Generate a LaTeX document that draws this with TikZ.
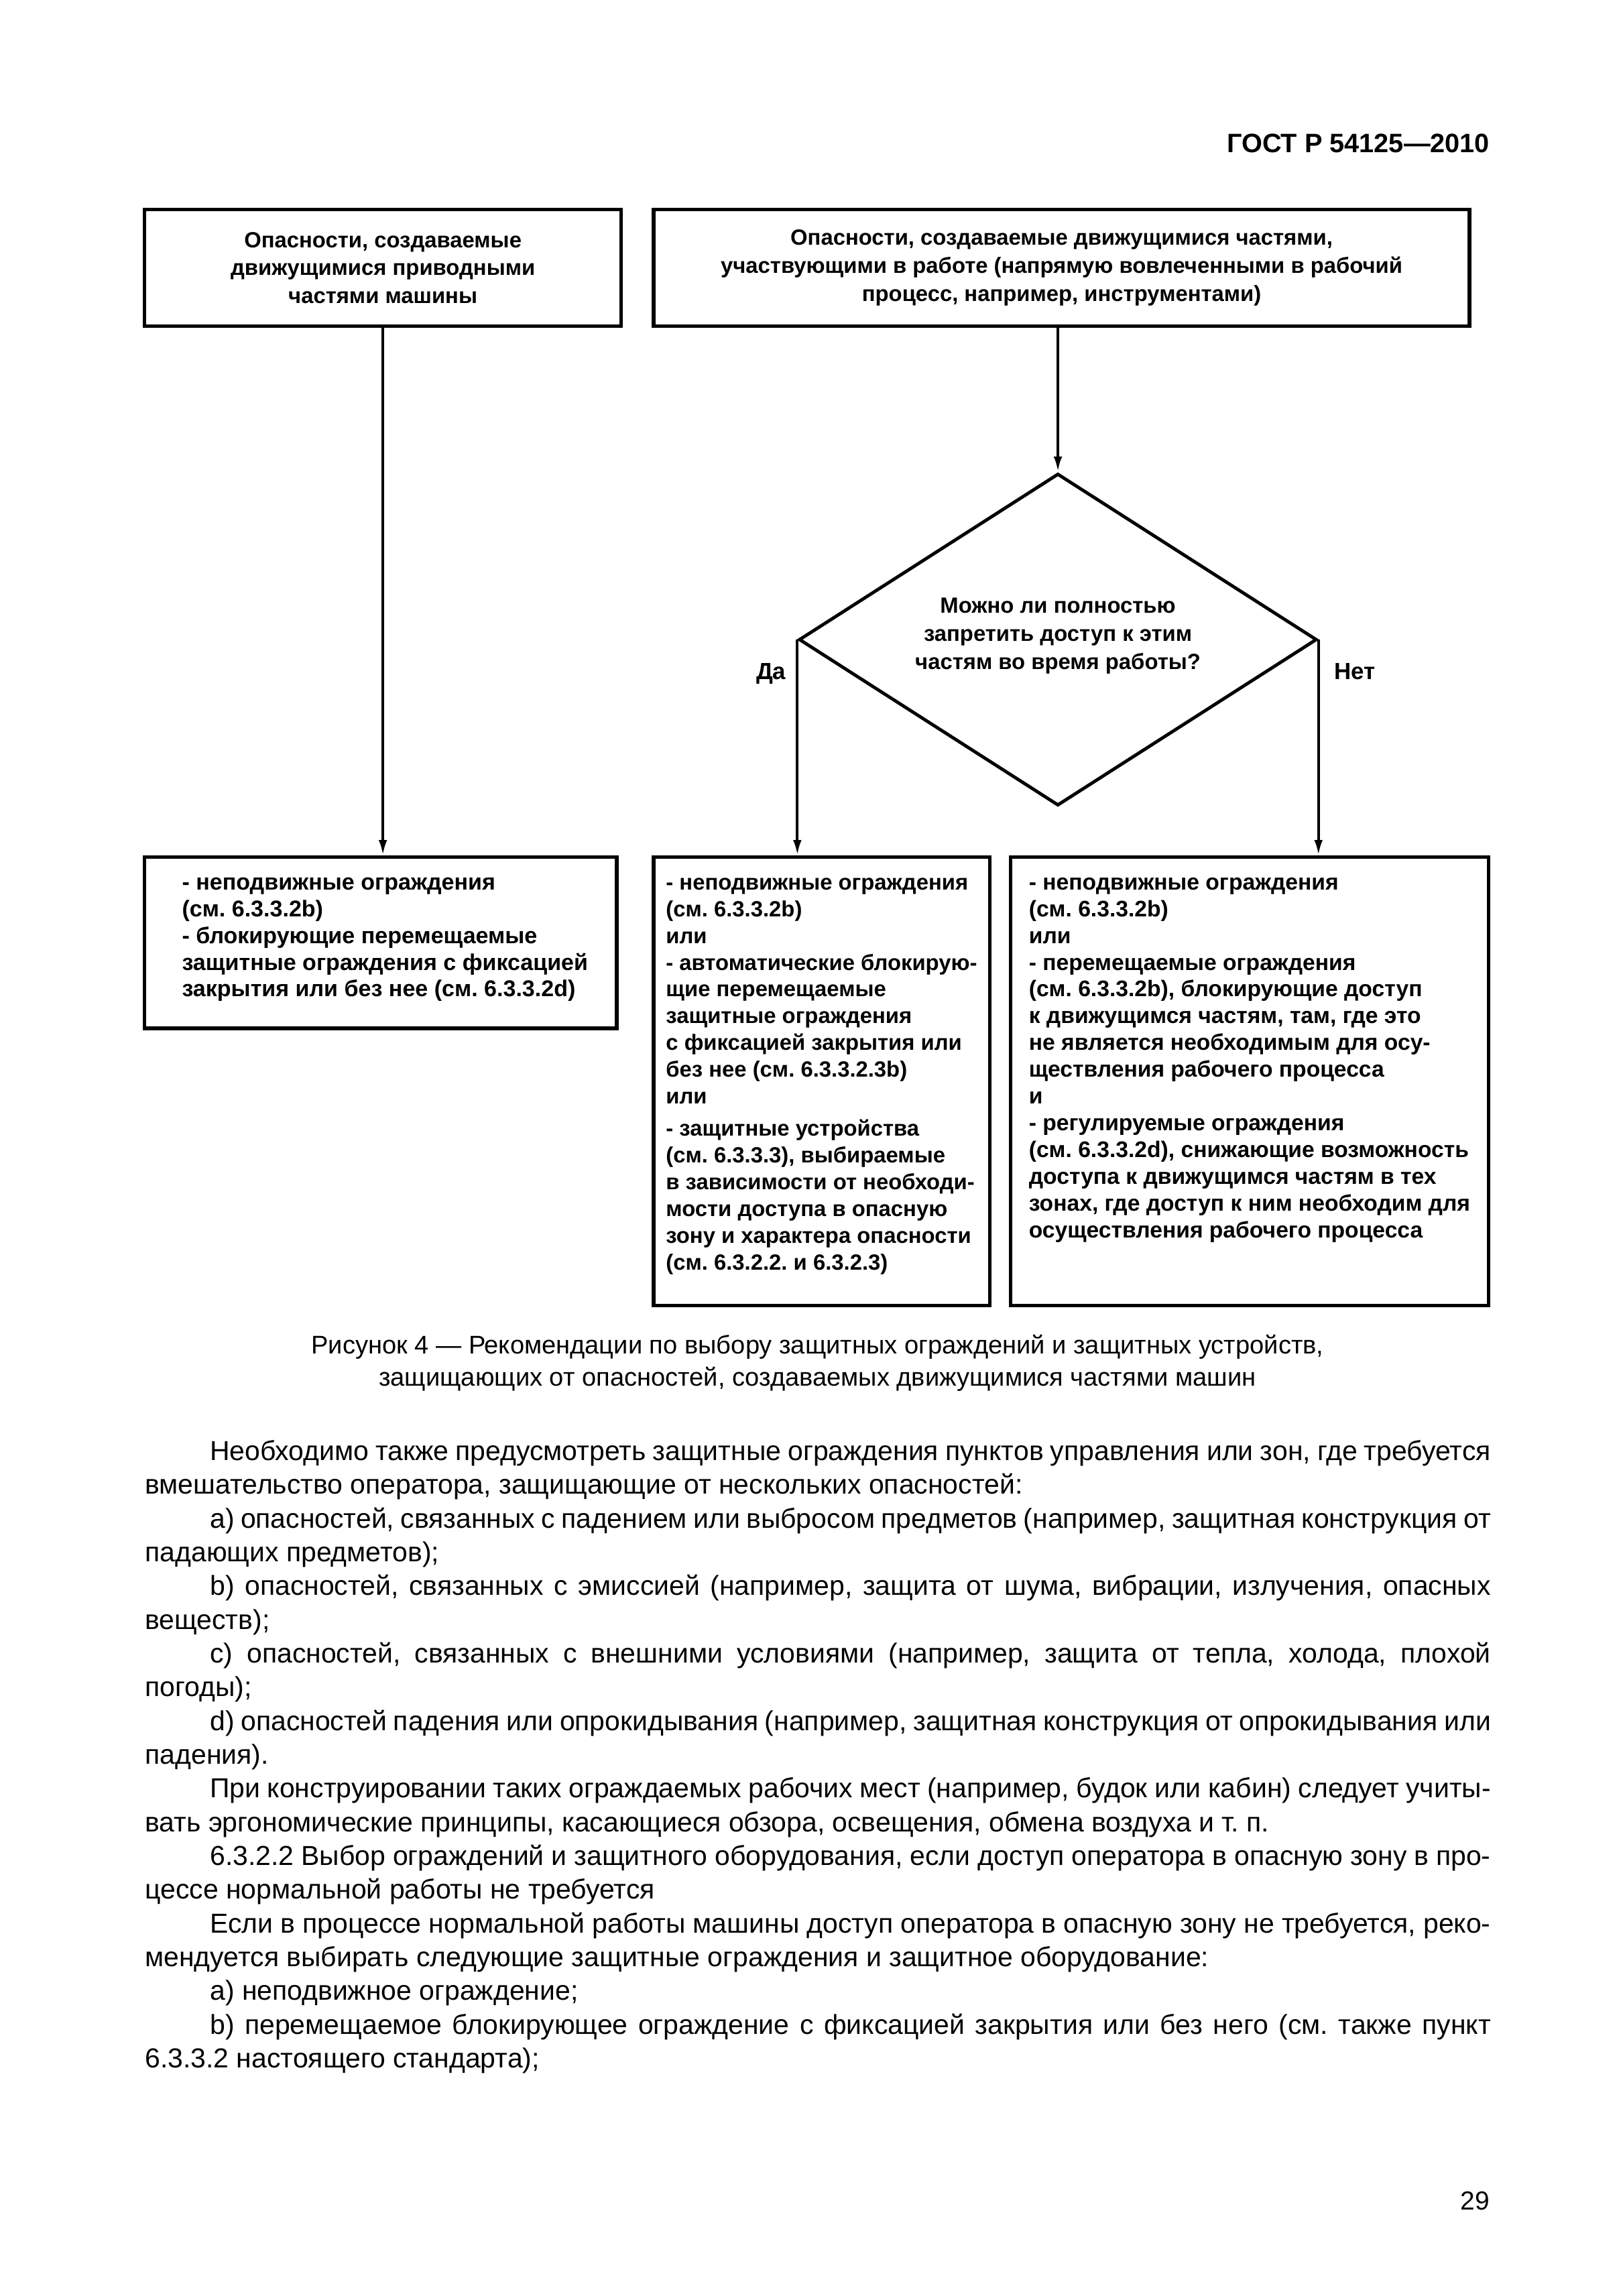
\documentclass[tikz,border=0pt]{standalone}
\usepackage{fontspec}
\setmainfont{Liberation Sans}
\usetikzlibrary{arrows.meta,shapes.geometric,calc}
\def\pxu{0.19091mm}
\frenchspacing
\begin{document}
\begin{tikzpicture}[x=0.19091mm,y=-0.19091mm,
  box/.style={draw,line width=1.3pt,rectangle,inner sep=0pt},
  dec/.style={draw,line width=1.2pt,diamond,inner sep=0pt},
  arr/.style={line width=1pt,-{Latex[length=2mm,width=1.1mm]}},
  toptext/.style={align=center,inner sep=0pt,font=\fontsize{8.1}{10.26}\selectfont\bfseries},
  boxtext/.style={align=left,inner sep=0pt,anchor=north west},
  lbl/.style={inner sep=0pt,font=\fontsize{8.6}{10.26}\selectfont\bfseries},
]
\useasboundingbox (0,0) rectangle (1100,1556.2);
\fill[white] (0,0) rectangle (1100,1556.2);

% header
\node[anchor=base east,inner sep=0pt,font=\fontsize{9.8}{12}\selectfont\bfseries] (hdr) at (1010,103.5) {ГОСТ Р 54125—2010};

% top boxes
\node[box,toptext,minimum width=323*\pxu,minimum height=79*\pxu] (A) at (259.5,181.5)
  {Опасности, создаваемые\\движущимися приводными\\частями машины};
\node[box,toptext,minimum width=553*\pxu,minimum height=79*\pxu] (B) at (719.5,181.5)
  {Опасности, создаваемые движущимися частями,\\участвующими в работе (напрямую вовлеченными в рабочий\\процесс, например, инструментами)};

% decision
\node[dec,minimum width=351*\pxu,minimum height=225*\pxu] (Q) at (717,433.5) {};
\node[toptext] (Qt) at (717,431) {Можно ли полностью\\запретить доступ к этим\\частям во время работы?};
\node[lbl,anchor=base east] (da) at (533,460.5) {Да};
\node[lbl,anchor=base west] (net) at (904,460.5) {Нет};

% bottom boxes
\node[box,minimum width=320*\pxu,minimum height=116*\pxu] (C) at (258,639) {};
\node[box,minimum width=228*\pxu,minimum height=304*\pxu] (D) at (557,733) {};
\node[box,minimum width=324*\pxu,minimum height=304*\pxu] (E) at (847,733) {};

\node[boxtext,font=\fontsize{8.4}{9.85}\selectfont\bfseries] (Ct) at (123,590) {\strut - неподвижные ограждения\\(см. 6.3.3.2b)\\- блокирующие перемещаемые\\защитные ограждения с фиксацией\\закрытия или без нее (см. 6.3.3.2d)};
\node[boxtext,font=\fontsize{8.1}{9.85}\selectfont\bfseries] (Dt) at (451,590) {\strut - неподвижные ограждения\\(см. 6.3.3.2b)\\или\\- автоматические блокирую-\\щие перемещаемые\\защитные ограждения\\с фиксацией закрытия или\\без нее (см. 6.3.3.2.3b)\\или\\[2pt]- защитные устройства\\(см. 6.3.3.3), выбираемые\\в зависимости от необходи-\\мости доступа в опасную\\зону и характера опасности\\(см. 6.3.2.2. и 6.3.2.3)};
\node[boxtext,font=\fontsize{8.3}{9.85}\selectfont\bfseries] (Et) at (697,590) {\strut - неподвижные ограждения\\(см. 6.3.3.2b)\\или\\- перемещаемые ограждения\\(см. 6.3.3.2b), блокирующие доступ\\к движущимся частям, там, где это\\не является необходимым для осу-\\ществления рабочего процесса\\и\\- регулируемые ограждения\\(см. 6.3.3.2d), снижающие возможность\\доступа к движущимся частям в тех\\зонах, где доступ к ним необходим для\\осуществления рабочего процесса};

% connectors
\draw[arr] (A.south) -- (A.south |- C.north);
\draw[arr] (Q.north |- B.south) -- (Q.north);
\draw[arr] (Q.west) -- (Q.west |- D.north);
\draw[arr] (Q.east) -- (Q.east |- E.north);

% caption
\node[align=center,inner sep=0pt,font=\fontsize{9.4}{11.9}\selectfont] (cap) at (554,924)
  {Рисунок 4 — Рекомендации по выбору защитных ограждений и защитных устройств,\\защищающих от опасностей, создаваемых движущимися частями машин};

% body text
\node[anchor=north west,inner sep=0pt,text width=912*\pxu,align=justify,font=\fontsize{10.1}{12.42}\selectfont] (body) at (98,973.5)
{\tolerance=9999\hyphenpenalty=10000\exhyphenpenalty=0\parskip=0pt\frenchspacing
\strut\hspace*{8.4mm}Необходимо также предусмотреть защитные ограждения пунктов управления или зон, где требуется\linebreak
вмешательство оператора, защищающие от нескольких опасностей:\par
\hspace*{8.4mm}а) опасностей, связанных с падением или выбросом предметов (например, защитная конструкция от\linebreak
падающих предметов);\par
\hspace*{8.4mm}b) опасностей, связанных с эмиссией (например, защита от шума, вибрации, излучения, опасных\linebreak
веществ);\par
\hspace*{8.4mm}c) опасностей, связанных с внешними условиями (например, защита от тепла, холода, плохой\linebreak
погоды);\par
\hspace*{8.4mm}d) опасностей падения или опрокидывания (например, защитная конструкция от опрокидывания или\linebreak
падения).\par
\hspace*{8.4mm}При конструировании таких ограждаемых рабочих мест (например, будок или кабин) следует учиты-\linebreak
вать эргономические принципы, касающиеся обзора, освещения, обмена воздуха и т. п.\par
\hspace*{8.4mm}6.3.2.2 Выбор ограждений и защитного оборудования, если доступ оператора в опасную зону в про-\linebreak
цессе нормальной работы не требуется\par
\hspace*{8.4mm}Если в процессе нормальной работы машины доступ оператора в опасную зону не требуется, реко-\linebreak
мендуется выбирать следующие защитные ограждения и защитное оборудование:\par
\hspace*{8.4mm}а) неподвижное ограждение;\par
\hspace*{8.4mm}b) перемещаемое блокирующее ограждение с фиксацией закрытия или без него (см. также пункт\linebreak
6.3.3.2 настоящего стандарта);\par};

% page number
\node[anchor=base east,inner sep=0pt,font=\fontsize{9.6}{12}\selectfont] (pg) at (1010,1498) {29};
\end{tikzpicture}
\end{document}
